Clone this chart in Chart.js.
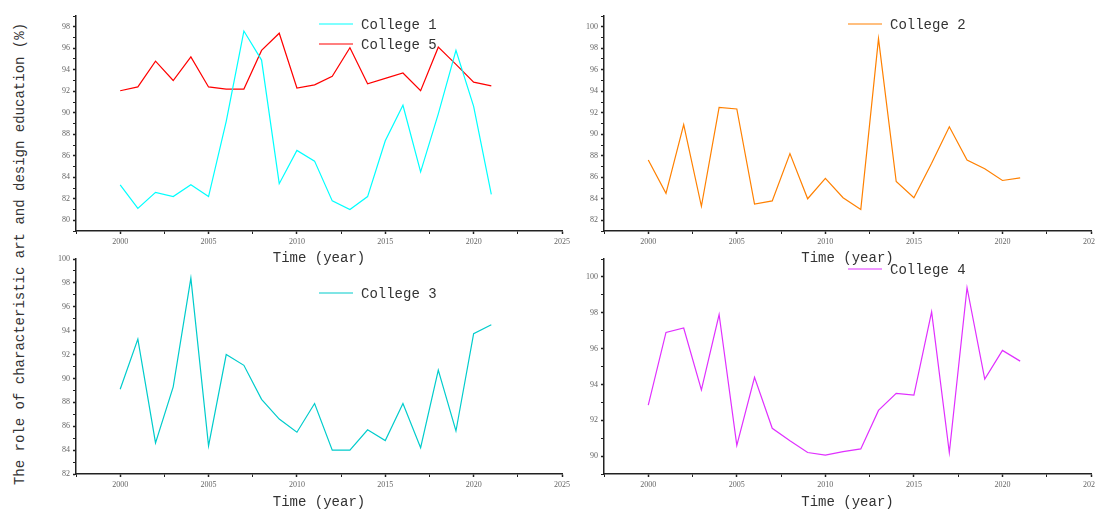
<!DOCTYPE html>
<html>
<head>
<meta charset="utf-8">
<script src="https://cdn.jsdelivr.net/npm/chart.js@4/dist/chart.umd.min.js"></script>
<style>
    html, body { margin: 0; padding: 0; background: #ffffff; overflow: hidden; }
    #page { position: relative; width: 1095px; height: 511px; overflow: hidden; }
    canvas { position: absolute; }
    #ytitle {
        position: absolute;
        left: 20px; top: 254px;
        transform: translate(-50%, -50%) rotate(-90deg);
        white-space: nowrap;
        font: 14px "Liberation Mono", monospace;
        color: #333333;
    }
</style>
</head>
<body>
<div id="page">
    <div id="ytitle">The role of characteristic art and design education (%)</div>
    <canvas id="c1" width="540" height="270" style="left:40px;top:0px"></canvas>
    <canvas id="c2" width="540" height="270" style="left:580px;top:0px"></canvas>
    <canvas id="c3" width="540" height="271" style="left:40px;top:240px"></canvas>
    <canvas id="c4" width="540" height="271" style="left:580px;top:240px"></canvas>
</div>
<script>
// years on the x axis
const years = [2000, 2001, 2002, 2003, 2004, 2005, 2006, 2007, 2008, 2009, 2010,
               2011, 2012, 2013, 2014, 2015, 2016, 2017, 2018, 2019, 2020, 2021];

const college1 = [83.3, 81.1, 82.6, 82.2, 83.3, 82.2, 89.2, 97.6, 94.9, 83.4, 86.5,
                  85.5, 81.8, 81.0, 82.2, 87.4, 90.7, 84.5, 89.9, 95.8, 90.6, 82.4];
const college5 = [92.05, 92.4, 94.8, 93.0, 95.2, 92.4, 92.2, 92.2, 95.8, 97.4, 92.3,
                  92.6, 93.4, 96.05, 92.7, 93.2, 93.7, 92.05, 96.1, 94.5, 92.85, 92.5];
const college2 = [87.6, 84.5, 90.9, 83.3, 92.5, 92.35, 83.5, 83.8, 88.2, 84.0, 85.9,
                  84.1, 83.0, 98.9, 85.6, 84.1, 87.3, 90.7, 87.6, 86.8, 85.7, 85.95];
const college3 = [89.1, 93.3, 84.6, 89.3, 98.4, 84.35, 92.0, 91.1, 88.25, 86.6, 85.5,
                  87.9, 84.0, 84.0, 85.7, 84.8, 87.9, 84.2, 90.7, 85.6, 93.75, 94.5];
const college4 = [92.85, 96.9, 97.15, 93.7, 97.9, 90.6, 94.4, 91.55, 90.85, 90.2, 90.05,
                  90.25, 90.4, 92.55, 93.5, 93.4, 98.05, 90.2, 99.4, 94.3, 95.9, 95.3];

// axis ranges
const xRange = [1997.5, 2025];
const yRange1 = [79, 99];
const yRange2 = [81, 101];
const yRange3 = [82, 100];
const yRange4 = [89, 101];

const AXIS_COLOR = '#222222';
const TICK_FONT = { family: '"Liberation Serif", serif', size: 8 };
const MONO = '"Liberation Mono", monospace';

function toPoints(values) {
    return years.map((yr, i) => ({ x: yr, y: values[i] }));
}

// draws the legend inside the plot area, line sample + label
const insideLegend = {
    id: 'insideLegend',
    afterDraw(chart, args, opts) {
        const ctx = chart.ctx;
        const area = chart.chartArea;
        ctx.save();
        ctx.font = '14px ' + MONO;
        ctx.textBaseline = 'middle';
        ctx.fillStyle = '#333333';
        chart.data.datasets.forEach((ds, i) => {
            const y = area.top + opts.top + i * 20;
            const x0 = area.left + opts.left;
            ctx.strokeStyle = ds.borderColor;
            ctx.lineWidth = 1.2;
            ctx.beginPath();
            ctx.moveTo(x0, y);
            ctx.lineTo(x0 + 34, y);
            ctx.stroke();
            ctx.fillText(ds.label, x0 + 42, y + 1);
        });
        ctx.restore();
    }
};

function makeChart(id, datasets, yRange, opt) {
    const ctx = document.getElementById(id).getContext('2d');
    return new Chart(ctx, {
        type: 'line',
        data: {
            datasets: datasets.map(d => ({
                label: d.label,
                data: toPoints(d.values),
                borderColor: d.color,
                backgroundColor: d.color,
                borderWidth: 1.2,
                pointRadius: 0,
                tension: 0,
                fill: false
            }))
        },
        options: {
            responsive: false,
            animation: false,
            devicePixelRatio: 1,
            layout: { padding: opt.padding },
            plugins: {
                legend: { display: false },
                tooltip: { enabled: false },
                insideLegend: opt.legend
            },
            scales: {
                x: {
                    type: 'linear',
                    min: xRange[0],
                    max: xRange[1],
                    afterFit: (scale) => { scale.height = opt.xHeight; },
                    border: { display: true, color: AXIS_COLOR, width: 1.5 },
                    grid: {
                        drawOnChartArea: false,
                        drawTicks: true,
                        tickLength: 3,
                        tickColor: AXIS_COLOR,
                        tickWidth: (c) => (c.tick && c.tick.value % 5 === 0 ? 1.5 : 1)
                    },
                    ticks: {
                        stepSize: 2.5,
                        autoSkip: false,
                        maxRotation: 0,
                        padding: 3,
                        color: '#666666',
                        font: TICK_FONT,
                        callback: (v) => (v % 5 === 0 ? String(v) : '')
                    },
                    title: {
                        display: true,
                        text: 'Time (year)',
                        color: '#333333',
                        font: { family: MONO, size: 14 },
                        padding: { top: 0, bottom: opt.titlePad }
                    }
                },
                y: {
                    min: yRange[0],
                    max: yRange[1],
                    afterFit: (scale) => { scale.width = opt.yWidth; },
                    border: { display: true, color: AXIS_COLOR, width: 1.5 },
                    grid: {
                        drawOnChartArea: false,
                        drawTicks: true,
                        tickLength: 3,
                        tickColor: AXIS_COLOR,
                        tickWidth: (c) => (c.tick && c.tick.value % 2 === 0 ? 1.5 : 1)
                    },
                    ticks: {
                        stepSize: 1,
                        autoSkip: false,
                        padding: 3,
                        color: '#666666',
                        font: TICK_FONT,
                        callback: (v) => (v % 2 === 0 ? String(v) : '')
                    }
                }
            }
        },
        plugins: [insideLegend]
    });
}

// top-left: College 1 and College 5
makeChart('c1', [
    { label: 'College 1', values: college1, color: '#00ffff' },
    { label: 'College 5', values: college5, color: '#ff0000' }
], yRange1, {
    padding: { top: 16, right: 18, bottom: 0, left: 0 },
    xHeight: 39, yWidth: 36, titlePad: 3,
    legend: { left: 243, top: 8 }
});

// top-right: College 2
makeChart('c2', [
    { label: 'College 2', values: college2, color: '#ff8000' }
], yRange2, {
    padding: { top: 16, right: 29, bottom: 0, left: 0 },
    xHeight: 39, yWidth: 24, titlePad: 3,
    legend: { left: 244, top: 8 }
});

// bottom-left: College 3
makeChart('c3', [
    { label: 'College 3', values: college3, color: '#00cccc' }
], yRange3, {
    padding: { top: 19, right: 18, bottom: 0, left: 0 },
    xHeight: 37, yWidth: 36, titlePad: 0,
    legend: { left: 243, top: 34 }
});

// bottom-right: College 4
makeChart('c4', [
    { label: 'College 4', values: college4, color: '#e030ff' }
], yRange4, {
    padding: { top: 19, right: 29, bottom: 0, left: 0 },
    xHeight: 37, yWidth: 24, titlePad: 0,
    legend: { left: 244, top: 10 }
});
</script>
</body>
</html>
